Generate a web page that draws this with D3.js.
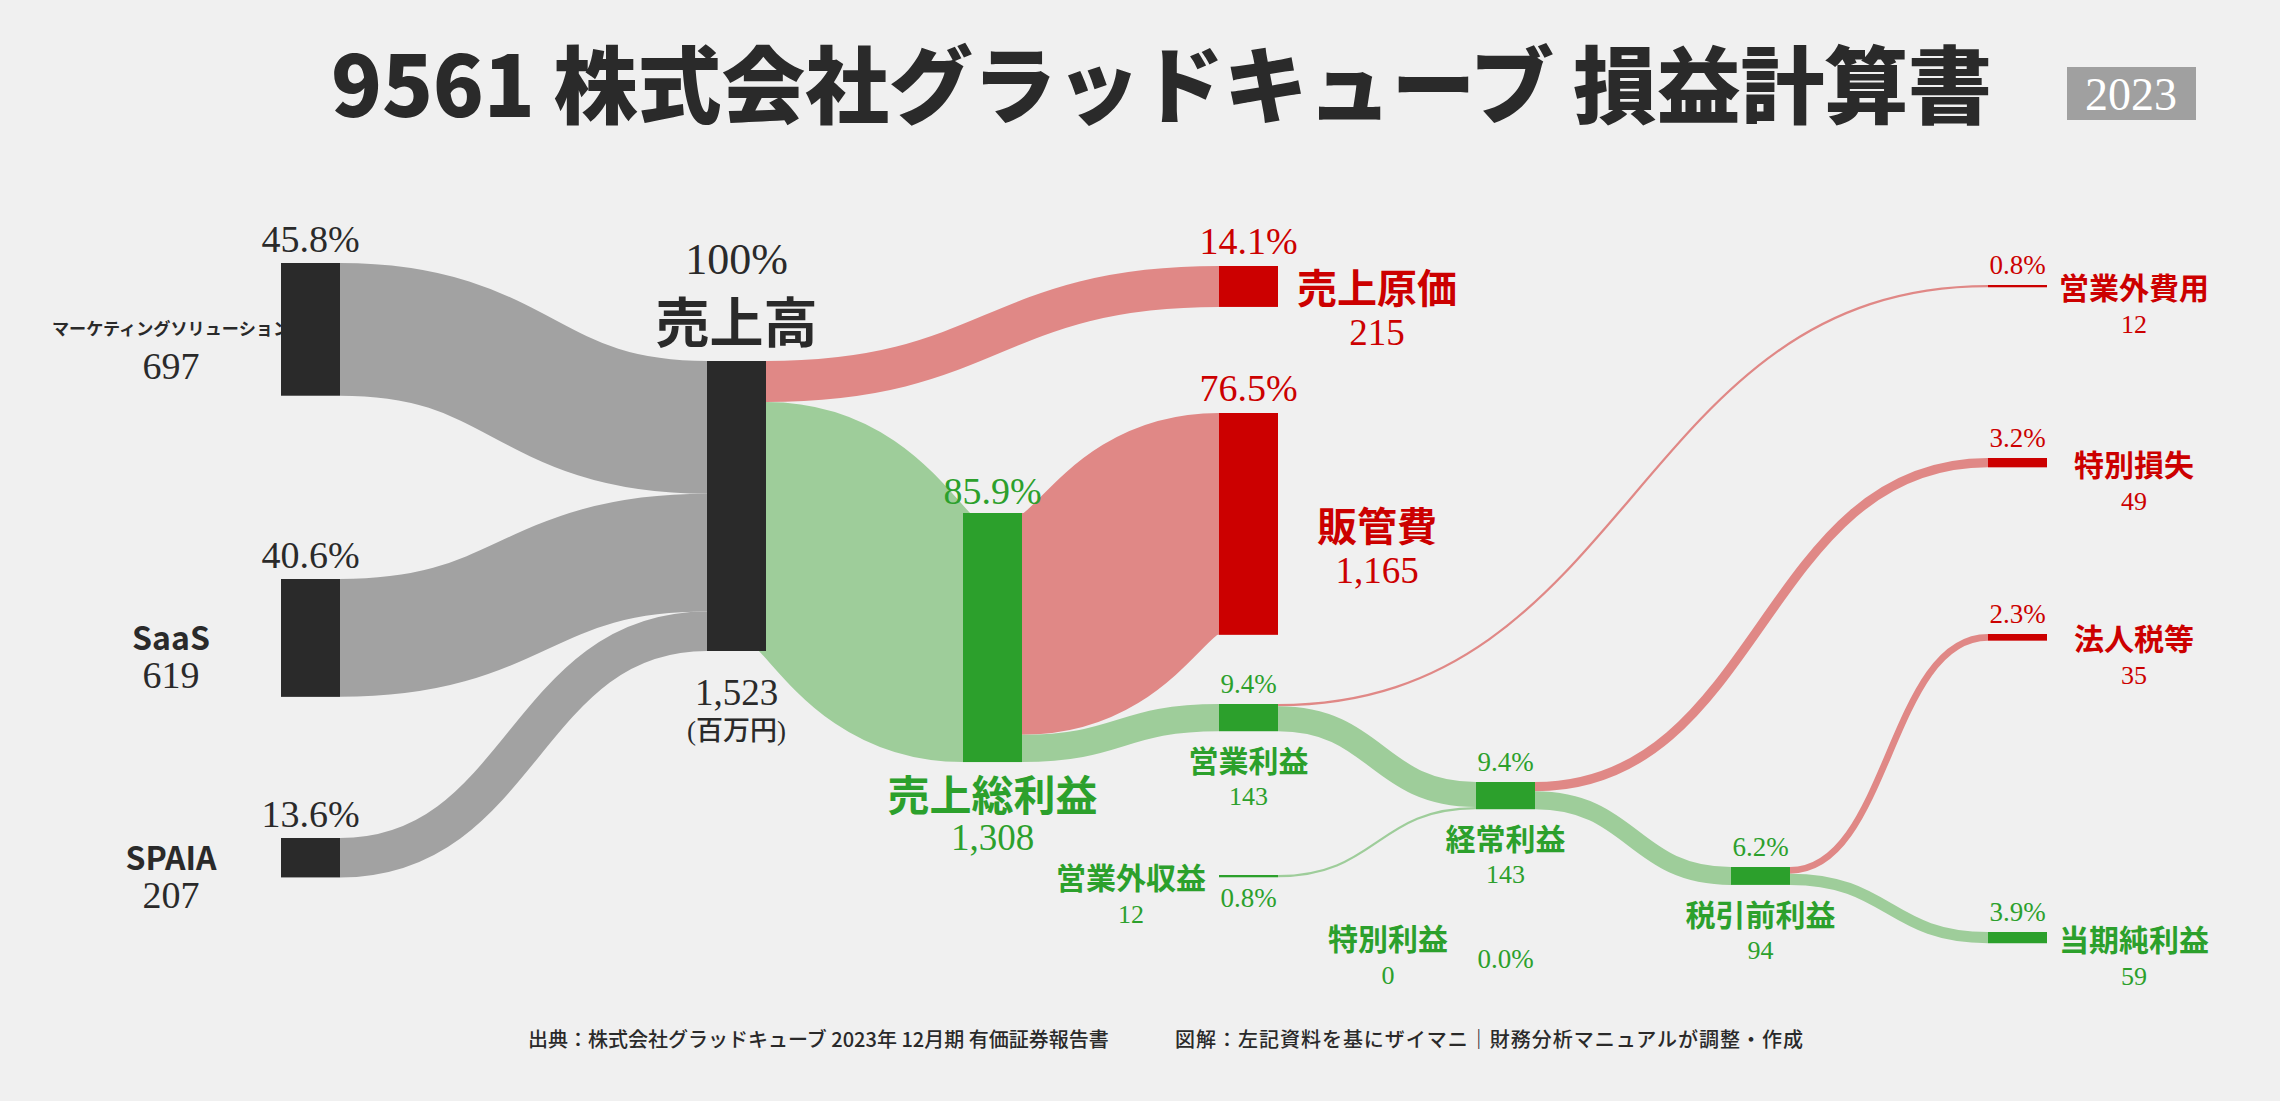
<!DOCTYPE html>
<html lang="ja">
<head>
<meta charset="UTF-8">
<title>9561 株式会社グラッドキューブ 損益計算書</title>
<script src="https://cdn.jsdelivr.net/npm/d3@7"></script>
<style>
  html, body { margin: 0; background: #f0f0f0; }
  svg { display: block; }
</style>
</head>
<body>
<div id="chart"></div>
<script>
// ---- data (百万円) ----
const nodeNames = ["マーケティングソリューション", "SaaS", "SPAIA", "売上高", "売上原価", "売上総利益", "販管費",
  "営業利益", "営業外収益", "営業外費用", "経常利益", "特別利益", "特別損失", "税引前利益", "法人税等", "当期純利益"];
const nodeValues = [697, 619, 207, 1523, 215, 1308, 1165, 143, 12, 12, 143, 0, 49, 94, 35, 59];
const nodeKind = ["seg", "seg", "seg", "seg", "cost", "profit", "cost", "profit", "profit", "cost",
  "profit", "profit", "cost", "profit", "cost", "profit"];

const linkSource = ["マーケティングソリューション", "SaaS", "SPAIA", "売上高", "売上高", "売上総利益", "売上総利益",
  "営業利益", "営業利益", "営業外収益", "経常利益", "経常利益", "特別利益", "税引前利益", "税引前利益"];
const linkTarget = ["売上高", "売上高", "売上高", "売上原価", "売上総利益", "販管費", "営業利益",
  "営業外費用", "経常利益", "経常利益", "特別損失", "税引前利益", "税引前利益", "法人税等", "当期純利益"];
const linkValue = [697, 619, 207, 215, 1308, 1165, 143, 12, 131, 12, 49, 94, 0, 35, 59];

const titleText = "9561 株式会社グラッドキューブ 損益計算書";
const yearText = "2023";
const sourceText = "出典：株式会社グラッドキューブ 2023年 12月期 有価証券報告書";
const creditText = "図解：左記資料を基にザイマニ｜財務分析マニュアルが調整・作成";

// ---- layout ----
const nodeCol   = [0, 0, 0, 1, 3, 2, 3, 3, 3, 6, 4, 4, 6, 5, 6, 6];
const nodeTop   = [263, 579, 838, 361, 266, 513, 413, 704, 875, 285, 782, 937, 458, 867, 634, 932];
const nodeLabel = ["left0", "left0", "left0", "sales", "right3", "gp", "right3", "below", "left", "right6",
  "below", "left", "right6", "below", "right6", "right6"];

const W = 2280, H = 1101;
const nodeW = 59;
const total = nodeValues[3];

const colX = d3.scaleOrdinal().domain(d3.range(7)).range([281, 707, 963, 1219, 1476, 1731, 1988]);
const h = d3.scaleLinear().domain([0, total]).range([0, 290]);

const nodeColor = { seg: "#2a2a2a", cost: "#cc0000", profit: "#2ca02c" };
const linkColor = { seg: "#a2a2a2", cost: "#e08886", profit: "#9ecd9a" };
const textColor = { seg: "#2a2a2a", cost: "#cc0000", profit: "#2ca02c" };

const serif = "'Liberation Serif', 'DejaVu Serif', serif";
const gothic = "'Noto Sans CJK JP', 'Noto Sans', sans-serif";

const pct = v => v === total ? "100%" : d3.format(".1f")(v / total * 100) + "%";
const num = d3.format(",");

const nodes = nodeNames.map((name, i) => {
  const x0 = colX(nodeCol[i]);
  const y0 = nodeTop[i];
  const hh = h(nodeValues[i]);
  return { name, value: nodeValues[i], kind: nodeKind[i], label: nodeLabel[i],
    x0, x1: x0 + nodeW, y0, y1: y0 + hh, cy: y0 + hh / 2, outY: y0, inY: y0 };
});
const byName = new Map(nodes.map(n => [n.name, n]));

// stack each link on its source (outgoing) and target (incoming) in order
const links = linkValue.map((v, i) => {
  const s = byName.get(linkSource[i]), t = byName.get(linkTarget[i]);
  const w = h(v);
  const l = { s, t, value: v, w, sy: s.outY + w / 2, ty: t.inY + w / 2 };
  s.outY += w; t.inY += w;
  return l;
});

const svg = d3.select("#chart").append("svg")
  .attr("width", W).attr("height", H)
  .attr("viewBox", [0, 0, W, H]);

svg.append("rect").attr("width", W).attr("height", H).attr("fill", "#f0f0f0");

// title
svg.append("text")
  .attr("x", 331).attr("y", 117)
  .attr("textLength", 1661).attr("lengthAdjust", "spacing")
  .style("font-family", gothic).style("font-weight", 900).style("font-size", "84px")
  .attr("fill", "#2a2a2a")
  .text(titleText);

svg.append("rect").attr("x", 2067).attr("y", 67).attr("width", 129).attr("height", 53).attr("fill", "#a0a0a0");
svg.append("text").attr("x", 2131).attr("y", 110).attr("text-anchor", "middle")
  .style("font-family", serif).style("font-size", "46px").attr("fill", "#fff").text(yearText);

// links
const linkGen = d3.linkHorizontal();
svg.append("g")
  .attr("fill", "none")
  .selectAll("path")
  .data(links.filter(d => d.value > 0))
  .join("path")
  .attr("d", d => linkGen({ source: [d.s.x1, d.sy], target: [d.t.x0, d.ty] }))
  .attr("stroke", d => d.t.name === "売上高" ? linkColor.seg : linkColor[d.t.kind])
  .attr("stroke-width", d => d.w);

// labels
const lab = svg.append("g").attr("text-anchor", "middle");

function txt(x, y, s, size, color, opts = {}) {
  const t = lab.append("text")
    .attr("x", x).attr("y", y)
    .style("font-family", opts.family || serif)
    .style("font-size", size + "px")
    .style("font-weight", opts.weight || 400)
    .attr("fill", color)
    .text(s);
  if (opts.central) t.attr("dominant-baseline", "central");
  return t;
}

nodes.forEach(n => {
  const c = textColor[n.kind];
  const cx = (n.x0 + n.x1) / 2;
  const bold = { family: gothic, weight: 700, central: true };
  switch (n.label) {
    case "left0": {
      const size = Math.min(32, 240 / n.name.length);
      txt(cx, n.y0 - 11, pct(n.value), 38, c);
      txt(n.x0 - 110, n.cy - 2, n.name, size, c, bold);
      txt(n.x0 - 110, n.cy + 50, num(n.value), 38, c);
      break;
    }
    case "sales":
      txt(cx, n.y0 - 87, pct(n.value), 44, c);
      txt(cx, n.y0 - 42, n.name, 54, c, bold);
      txt(cx, n.y1 + 54, num(n.value), 37, c);
      txt(cx, n.y1 + 89, "(百万円)", 27, c, { family: "'Liberation Serif', 'Noto Sans CJK JP', serif", weight: 500 });
      break;
    case "gp":
      txt(cx, n.y0 - 9, pct(n.value), 38, c);
      txt(cx, n.y1 + 30, n.name, 42, c, bold);
      txt(cx, n.y1 + 88, num(n.value), 37, c);
      break;
    case "right3":
      txt(cx, n.y0 - 12, pct(n.value), 38, c);
      txt(n.x1 + 99, n.cy, n.name, 40, c, bold);
      txt(n.x1 + 99, n.cy + 59, num(n.value), 37, c);
      break;
    case "below":
      txt(cx, n.y0 - 11, pct(n.value), 27, c);
      txt(cx, n.y1 + 28, n.name, 30, c, bold);
      txt(cx, n.y1 + 74, num(n.value), 26, c);
      break;
    case "left":
      txt(n.x0 - 88, n.cy, n.name, 30, c, bold);
      txt(n.x0 - 88, n.cy + 47, num(n.value), 26, c);
      txt(cx, n.cy + 31, pct(n.value), 27, c);
      break;
    case "right6":
      txt(cx, n.y0 - 11, pct(n.value), 27, c);
      txt(n.x1 + 87, n.cy, n.name, 30, c, bold);
      txt(n.x1 + 87, n.cy + 47, num(n.value), 26, c);
      break;
  }
});

// nodes (drawn over the labels, as in the original)
svg.append("g")
  .selectAll("rect")
  .data(nodes.filter(d => d.value > 0))
  .join("rect")
  .attr("x", d => d.x0).attr("y", d => d.y0)
  .attr("width", nodeW).attr("height", d => d.y1 - d.y0)
  .attr("fill", d => d.name === "売上高" ? nodeColor.seg : nodeColor[d.kind]);

// footer
const foot = svg.append("g")
  .style("font-family", gothic).style("font-weight", 500).style("font-size", "20px")
  .attr("fill", "#2a2a2a");
foot.append("text").attr("x", 528).attr("y", 1047).text(sourceText);
foot.append("text").attr("x", 1175).attr("y", 1047)
  .attr("textLength", 628).attr("lengthAdjust", "spacing")
  .text(creditText);
</script>
</body>
</html>
